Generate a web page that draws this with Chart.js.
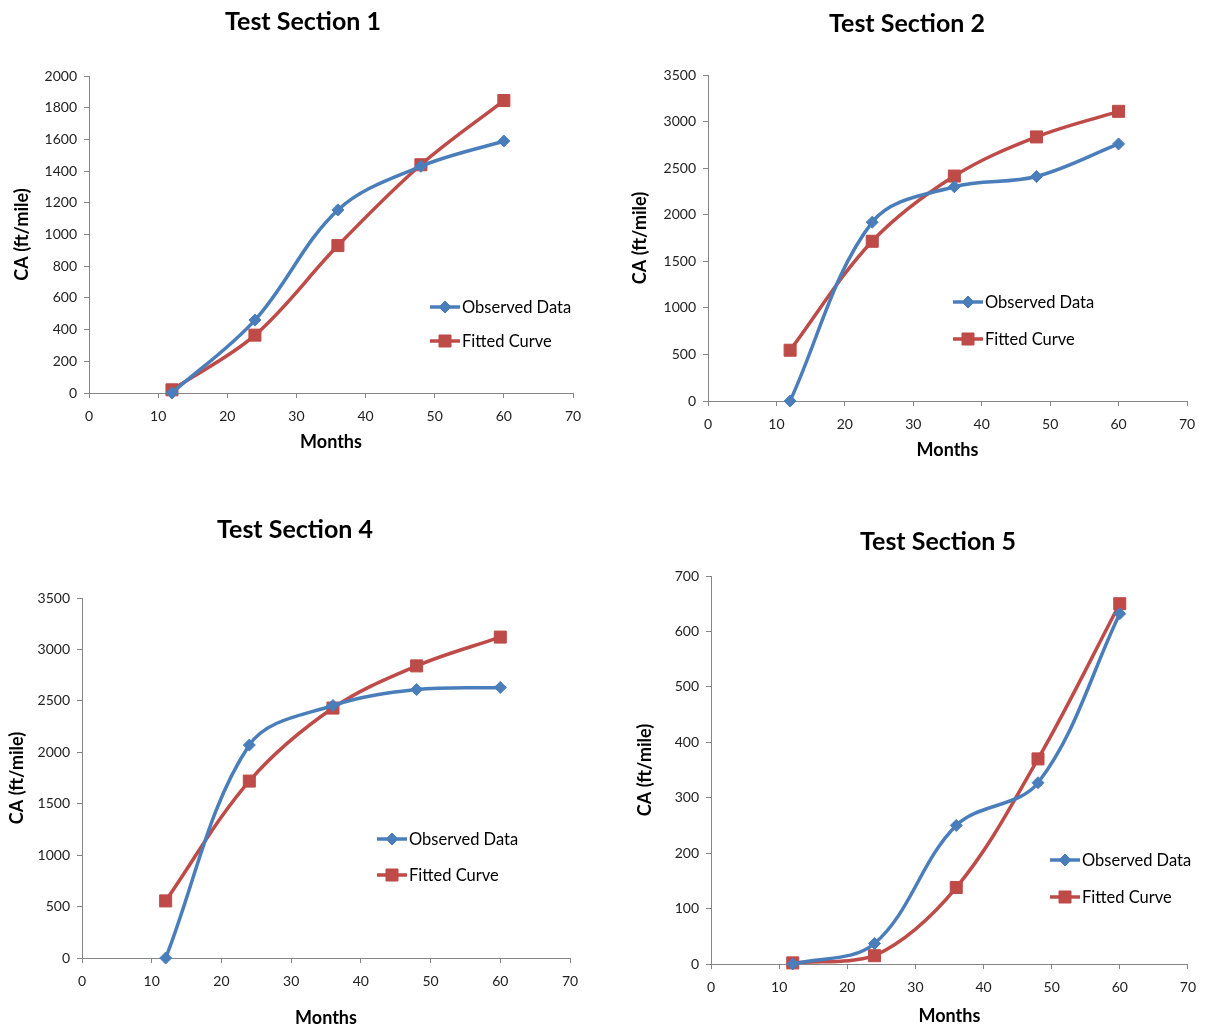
<!DOCTYPE html>
<html>
<head>
<meta charset="utf-8">
<title>Crack accumulation by test section</title>
<script src="https://cdn.jsdelivr.net/npm/chart.js@4.4.1/dist/chart.umd.min.js"></script>
<style>
  html, body { margin: 0; padding: 0; background: #fff; }
  #wrap { position: relative; width: 1206px; height: 1028px; overflow: hidden; }
  #wrap canvas { position: absolute; }
</style>
</head>
<body>
<div id="wrap">
  <canvas id="ts1"></canvas>
  <canvas id="ts2"></canvas>
  <canvas id="ts4"></canvas>
  <canvas id="ts5"></canvas>
</div>
<script>
// months at which the sections were surveyed
const months = [12, 24, 36, 48, 60];

// cracking (ft/mile) per section
const observed1 = [0, 460, 1155, 1430, 1590];
const fitted1 = [20, 365, 930, 1440, 1845];

const observed2 = [0, 1920, 2300, 2410, 2760];
const fitted2 = [545, 1715, 2415, 2835, 3110];

const observed4 = [0, 2070, 2455, 2610, 2630];
const fitted4 = [555, 1720, 2430, 2840, 3120];

const observed5 = [0, 37, 250, 327, 632];
const fitted5 = [2, 15, 138, 370, 650];

const seriesNames = ["Observed Data", "Fitted Curve"];
const titles = ["Test Section 1", "Test Section 2", "Test Section 4", "Test Section 5"];
const yMax = [2000, 3500, 3500, 700];
const yStep = [200, 500, 500, 100];

const BLUE = "#4A7EBB";
const RED = "#BE4B48";
const AXIS = "#868686";
const FONT = "Lato, 'Open Sans', sans-serif";
const AXIS_TITLE_SIZE = 18;

// page layout for each panel: canvas box, plot box, title/legend anchors
const panels = [
  { id: "ts1", box: [0, 0, 603, 470], plot: { l: 89, r: 573, t: 76, b: 393 },
    yTitleX: 22, xTitleY: 442, title: [303, 22], legend: [430, 307, 34] },
  { id: "ts2", box: [603, 0, 603, 470], plot: { l: 708, r: 1187, t: 75, b: 401 },
    yTitleX: 640, xTitleY: 450, title: [907, 24], legend: [953, 302, 37] },
  { id: "ts4", box: [0, 490, 603, 538], plot: { l: 82, r: 570, t: 598, b: 958 },
    yTitleX: 17, xTitleY: 1018, title: [295, 530], legend: [377, 839, 36] },
  { id: "ts5", box: [603, 490, 603, 538], plot: { l: 711, r: 1191, t: 576, b: 964 },
    yTitleX: 645, xTitleY: 1016, title: [938, 542], legend: [1050, 860, 37] }
];
const data = [
  [observed1, fitted1],
  [observed2, fitted2],
  [observed4, fitted4],
  [observed5, fitted5]
];

// heading and in-plot legend (line + marker swatch, like the spreadsheet look)
const decor = {
  id: "decor",
  afterDraw(chart, args, opts) {
    const { ctx } = chart;
    const [ox, oy] = opts.origin;
    ctx.save();
    ctx.fillStyle = "#000";
    ctx.font = "bold 25px " + FONT;
    ctx.textAlign = "center";
    ctx.textBaseline = "middle";
    ctx.fillText(opts.title, opts.titlePos[0] - ox, opts.titlePos[1] - oy);

    const [lx, ly, gap] = opts.legend;
    chart.data.datasets.forEach((ds, i) => {
      const x = lx - ox, y = ly - oy + i * gap;
      ctx.strokeStyle = ds.borderColor;
      ctx.fillStyle = ds.backgroundColor;
      ctx.lineWidth = 3.5;
      ctx.beginPath();
      ctx.moveTo(x, y);
      ctx.lineTo(x + 30, y);
      ctx.stroke();
      ctx.lineWidth = 1;
      Chart.helpers.drawPoint(ctx, {
        pointStyle: ds.pointStyle, radius: ds.pointRadius, borderWidth: 1
      }, x + 15, y);
      ctx.fillStyle = "#000";
      ctx.font = "16.5px " + FONT;
      ctx.textAlign = "left";
      ctx.fillText(ds.label, x + 32, y + 1);
    });
    ctx.restore();
  }
};

panels.forEach((p, k) => {
  const [cx, cy, cw, ch] = p.box;
  const canvas = document.getElementById(p.id);
  canvas.style.left = cx + "px";
  canvas.style.top = cy + "px";
  canvas.width = cw;
  canvas.height = ch;

  const titleOffset = AXIS_TITLE_SIZE * 1.2 / 2 + 4; // half line height + title padding
  const padLeft = p.yTitleX - cx - titleOffset;
  const yWidth = p.plot.l - cx - padLeft;
  const xHeight = p.xTitleY + titleOffset - p.plot.b;
  const padBottom = cy + ch - (p.xTitleY + titleOffset);

  const [obs, fit] = data[k];
  const tickFont = { family: FONT, size: 14 };
  const titleFont = { family: FONT, size: AXIS_TITLE_SIZE, weight: "bold" };
  new Chart(canvas, {
    type: "line",
    data: {
      datasets: [
        {
          label: seriesNames[0],
          data: months.map((m, i) => ({ x: m, y: obs[i] })),
          borderColor: BLUE,
          backgroundColor: BLUE,
          borderWidth: 3.5,
          pointStyle: "rectRot",
          pointRadius: 6,
          pointBorderWidth: 1,
          tension: 0.35
        },
        {
          label: seriesNames[1],
          data: months.map((m, i) => ({ x: m, y: fit[i] })),
          borderColor: RED,
          backgroundColor: RED,
          borderWidth: 3.5,
          pointStyle: "rect",
          pointRadius: 8.5,
          pointBorderWidth: 1,
          tension: 0.35
        }
      ]
    },
    options: {
      responsive: false,
      animation: false,
      clip: false,
      layout: {
        padding: { left: padLeft, top: p.plot.t - cy, right: cx + cw - p.plot.r, bottom: padBottom }
      },
      plugins: {
        legend: { display: false },
        tooltip: { enabled: false },
        decor: { origin: [cx, cy], title: titles[k], titlePos: p.title, legend: p.legend }
      },
      scales: {
        x: {
          type: "linear",
          min: 0,
          max: 70,
          ticks: { stepSize: 10, padding: 10, color: "#222", font: tickFont, callback: (v) => String(v) },
          grid: { drawOnChartArea: false, tickLength: 5, color: AXIS },
          border: { color: AXIS, width: 1 },
          title: { display: true, text: "Months", color: "#000", font: titleFont },
          afterFit: (s) => { s.height = xHeight; }
        },
        y: {
          min: 0,
          max: yMax[k],
          ticks: { stepSize: yStep[k], padding: 7, color: "#222", font: tickFont, callback: (v) => String(v) },
          grid: { drawOnChartArea: false, tickLength: 5, color: AXIS },
          border: { color: AXIS, width: 1 },
          title: { display: true, text: "CA (ft/mile)", color: "#000", font: titleFont },
          afterFit: (s) => { s.width = yWidth; }
        }
      }
    },
    plugins: [decor]
  });
});
</script>
</body>
</html>
